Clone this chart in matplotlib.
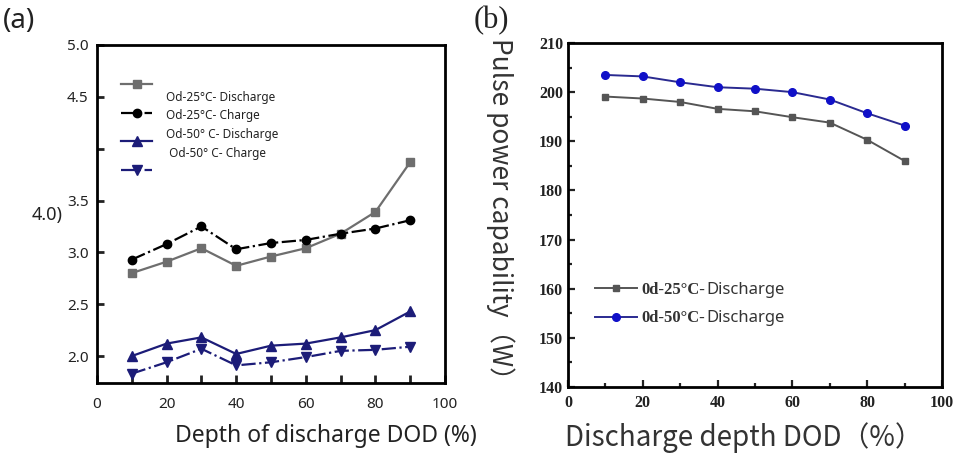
import numpy as np
import matplotlib.pyplot as plt
from matplotlib.ticker import MultipleLocator, FixedLocator

# Depth of discharge (%)
dod = [10, 20, 30, 40, 50, 60, 70, 80, 90]

# (a) internal resistance style curves
r25_discharge = [2.80, 2.91, 3.04, 2.87, 2.96, 3.04, 3.18, 3.39, 3.87]
r25_charge = [2.93, 3.08, 3.25, 3.03, 3.09, 3.12, 3.18, 3.23, 3.31]
r50_discharge = [2.00, 2.12, 2.18, 2.02, 2.10, 2.12, 2.18, 2.25, 2.43]
r50_charge = [1.83, 1.94, 2.07, 1.91, 1.94, 1.99, 2.05, 2.06, 2.09]
legend_a = ['Od-25°C- Discharge', 'Od-25°C- Charge', 'Od-50° C- Discharge', ' Od-50° C- Charge']
yticks_a = [2.0, 2.5, 3.0, 3.5, 4.0, 4.5, 5.0]
ylabels_a = ['2.0', '2.5', '3.0', '3.5', '', '4.5', '5.0']

# (b) pulse power capability (W)
p25_discharge = [199.1, 198.7, 198.0, 196.6, 196.1, 194.9, 193.8, 190.3, 186.0]
p50_discharge = [203.5, 203.2, 202.0, 201.0, 200.7, 200.0, 198.5, 195.7, 193.2]

W, H = 957, 458
fig = plt.figure(figsize=(W / 100, H / 100), dpi=100)
fig.patch.set_facecolor('white')

sans = 'Noto Sans'
serif = 'Liberation Serif'
cjk = ['Noto Sans CJK SC', 'DejaVu Sans']
gray = '#6e6e6e'
navy = '#1c1c78'

def rect(x0, y0, x1, y1):
    return [x0 / W, 1 - y1 / H, (x1 - x0) / W, (y1 - y0) / H]

# ---------------- panel (a) ----------------
ax = fig.add_axes(rect(97, 45, 445, 383))
h1, = ax.plot(dod, r25_discharge, '-', color=gray, lw=1.6, marker='s', ms=5.5)
h2, = ax.plot(dod, r25_charge, '-.', color='black', lw=1.6, marker='o', ms=6)
h3, = ax.plot(dod, r50_discharge, '-', color=navy, lw=1.6, marker='^', ms=6.5)
h4, = ax.plot(dod, r50_charge, '-.', color=navy, lw=1.6, marker='v', ms=6.5)
ax.set_xlim(0, 100)
ax.set_ylim(1.74, 5.0)
ax.xaxis.set_major_locator(MultipleLocator(20))
ax.xaxis.set_minor_locator(MultipleLocator(10))
ax.yaxis.set_major_locator(FixedLocator(yticks_a))
ax.set_yticklabels(ylabels_a)
ax.tick_params(which='both', direction='in', width=2, labelsize=11, colors='#222222')
ax.tick_params(axis='x', which='major', length=6, pad=10)
ax.tick_params(axis='x', which='minor', length=6)
ax.tick_params(axis='y', length=5, pad=6)
for lab in ax.get_xticklabels() + ax.get_yticklabels():
    lab.set_fontfamily(sans)
for s in ax.spines.values():
    s.set_linewidth(2)
ax.set_xlabel('Depth of discharge DOD (%)', fontsize=16.5, family=sans, color='#222222',
              labelpad=9, x=0.658)
ax.legend([h1, h2, h3, h4], [' '] * 4, loc='upper left', bbox_to_anchor=(0.055, 0.916),
          frameon=False, fontsize=9, handlelength=2.5, labelspacing=1.24,
          borderaxespad=0)
for i, txt in enumerate(legend_a):
    ax.text(0.198, 0.845 - i * 0.055, txt, transform=ax.transAxes, fontsize=8.5,
            family=sans, va='center', color='#222222')
ax.text(-0.098, 0.497, '4.0)', transform=ax.transAxes, fontsize=13, family=sans,
        ha='right', va='center', color='#222222')
fig.text(3 / W, 1 - 21 / H, '(a)', fontsize=20, family=sans, va='center', color='#222222')

# ---------------- panel (b) ----------------
bx = fig.add_axes(rect(568, 43, 942, 387))
bx.plot(dod, p25_discharge, '-', color='#555555', lw=1.4, marker='s', ms=4.5,
        label='0d-25°C-')
bx.plot(dod, p50_discharge, '-', color='#2a2a90', lw=1.4, marker='o', ms=5.5,
        mfc='#1010c8', mec='#1010c8', label='0d-50°C-')
bx.set_xlim(0, 100)
bx.set_ylim(140, 210)
bx.xaxis.set_major_locator(MultipleLocator(20))
bx.xaxis.set_minor_locator(MultipleLocator(10))
bx.yaxis.set_major_locator(MultipleLocator(10))
bx.yaxis.set_minor_locator(MultipleLocator(5))
bx.tick_params(which='both', direction='in', width=1.6, labelsize=11.5, colors='#222222')
bx.tick_params(which='major', length=5)
bx.tick_params(which='minor', length=3)
bx.tick_params(axis='x', pad=6)
for lab in bx.get_xticklabels() + bx.get_yticklabels():
    lab.set_fontfamily(serif)
    lab.set_fontweight('bold')
for s in bx.spines.values():
    s.set_linewidth(2)
bx.set_xlabel('Discharge depth DOD（%）', fontsize=20, family=cjk, color='#333333',
              labelpad=8, x=0.47)
bx.set_ylabel('Pulse power capability（W）', fontsize=19, rotation=-90, family=cjk,
              color='#333333', va='center', ha='center')
bx.yaxis.set_label_coords(-0.182, 0.50)
leg2 = bx.legend(loc='upper left', bbox_to_anchor=(0.054, 0.325), frameon=False,
                 prop={'family': serif, 'weight': 'bold', 'size': 12},
                 handlelength=2.5, handletextpad=0.3, labelspacing=0.75, borderaxespad=0)
for t in leg2.get_texts():
    t.set_color('#333333')
    bx.annotate('Discharge', xy=(1, 0), xycoords=t, xytext=(1, 0), textcoords='offset points',
                fontsize=12, family=sans, color='#333333', va='bottom', ha='left', zorder=10)
fig.text(474 / W, 1 - 21 / H, '(b)', fontsize=22, family=serif, va='center', color='#222222')

fig.savefig('out.png', dpi=100, facecolor='white')
